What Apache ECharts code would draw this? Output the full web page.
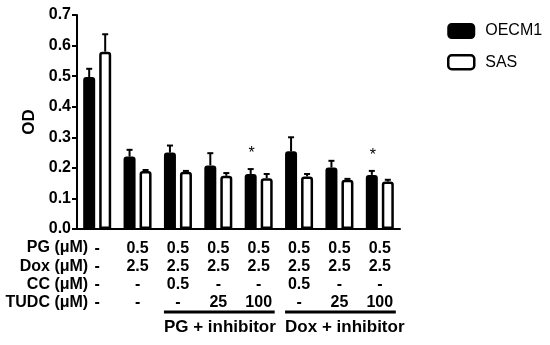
<!DOCTYPE html>
<html>
<head>
<meta charset="utf-8">
<script src="https://cdn.jsdelivr.net/npm/echarts@6/dist/echarts.min.js"></script>
<style>
  html, body { margin: 0; padding: 0; background: #fff; }
  #chart { width: 550px; height: 345px; }
</style>
</head>
<body>
<div id="chart"></div>
<script>
// treatment table under the x axis (one column per bar group)
const pgRow   = ['-', '0.5', '0.5', '0.5', '0.5', '0.5', '0.5', '0.5'];
const doxRow  = ['-', '2.5', '2.5', '2.5', '2.5', '2.5', '2.5', '2.5'];
const ccRow   = ['-', '-', '0.5', '-', '-', '0.5', '-', '-'];
const tudcRow = ['-', '-', '-', '25', '100', '-', '25', '100'];
const rowNames = ['PG (\u03bcM)', 'Dox (\u03bcM)', 'CC (\u03bcM)', 'TUDC (\u03bcM)'];

// OD values, mean and error (upper bar only)
const oecm1    = [0.497, 0.237, 0.250, 0.208, 0.180, 0.254, 0.201, 0.177];
const oecm1Err = [0.027, 0.022, 0.023, 0.040, 0.016, 0.046, 0.022, 0.013];
const sas      = [0.580, 0.190, 0.187, 0.174, 0.166, 0.172, 0.161, 0.155];
const sasErr   = [0.057, 0.003, 0.003, 0.009, 0.014, 0.008, 0.003, 0.006];
const stars    = ['', '', '', '', '*', '', '', '*'];

// bracket groups: [first column, last column, label]
const groups = [[2, 4, 'PG + inhibitor'], [5, 7, 'Dox + inhibitor']];

const categories = pgRow.map((_, i) => 'g' + i);
const FONT = 'Arial, "Liberation Sans", sans-serif';
const BAR_W = 12;
const BAR_GAP = 4;
const OFFSET = (BAR_W + BAR_GAP) / 2;

const chart = echarts.init(document.getElementById('chart'));

// error bars drawn from the axis scale
function errorSeries(name, vals, errs, shift, starList) {
    return {
        type: 'custom',
        name: name + '-err',
        silent: true,
        z: 1,
        data: vals.map((v, i) => [i, v, v + errs[i]]),
        renderItem: function (params, api) {
            const i = api.value(0);
            const base = api.coord([i, api.value(1)]);
            const top = api.coord([i, api.value(2)]);
            const x = base[0] + shift;
            const children = [
                { type: 'line', shape: { x1: x, y1: base[1], x2: x, y2: top[1] },
                  style: { stroke: '#000', lineWidth: 2 } },
                { type: 'line', shape: { x1: x - 3, y1: top[1], x2: x + 3, y2: top[1] },
                  style: { stroke: '#000', lineWidth: 2 } }
            ];
            if (starList && starList[i]) {
                children.push({
                    type: 'text',
                    style: { text: starList[i], x: x + 1, y: top[1] - 7, align: 'center',
                             verticalAlign: 'bottom', fill: '#000', font: '16px ' + FONT }
                });
            }
            return { type: 'group', children: children };
        }
    };
}

const options = {
    animation: false,
    textStyle: { fontFamily: FONT },
    grid: { left: 77, right: 150, top: 15, bottom: 116, containLabel: false },
    legend: {
        orient: 'vertical',
        left: 442,
        top: 18,
        itemWidth: 26,
        itemHeight: 14,
        itemGap: 15,
        icon: 'roundRect',
        textStyle: { fontSize: 16, color: '#000', fontFamily: FONT, padding: [0, 0, 0, 6] },
        data: [
            { name: 'OECM1', itemStyle: { color: '#000', borderColor: '#000', borderWidth: 2 } },
            { name: 'SAS', itemStyle: { color: '#fff', borderColor: '#000', borderWidth: 2.5 } }
        ]
    },
    xAxis: {
        type: 'category',
        data: categories,
        axisLine: { lineStyle: { color: '#000', width: 2 } },
        axisTick: { alignWithLabel: true, length: 5, lineStyle: { color: '#000', width: 2 } },
        axisLabel: {
            interval: 0,
            margin: 10,
            color: '#000',
            fontWeight: 'bold',
            fontSize: 16,
            lineHeight: 18.2,
            fontFamily: FONT,
            formatter: function (v, i) {
                return [pgRow[i], doxRow[i], ccRow[i], tudcRow[i]].join('\n');
            }
        }
    },
    yAxis: {
        type: 'value',
        min: 0,
        max: 0.7,
        interval: 0.1,
        name: 'OD',
        nameLocation: 'middle',
        nameGap: 35,
        nameRotate: 90,
        nameTextStyle: { fontWeight: 'bold', fontSize: 17, color: '#000', fontFamily: FONT },
        splitLine: { show: false },
        axisLine: { show: true, lineStyle: { color: '#000', width: 2 } },
        axisTick: { show: true, length: 5, lineStyle: { color: '#000', width: 2 } },
        axisLabel: {
            margin: 6,
            color: '#000',
            fontWeight: 'bold',
            fontSize: 16,
            fontFamily: FONT,
            formatter: v => v.toFixed(1)
        }
    },
    series: [
        {
            name: 'OECM1',
            type: 'bar',
            data: oecm1,
            barWidth: BAR_W,
            barGap: (BAR_GAP / BAR_W * 100) + '%',
            z: 3,
            itemStyle: { color: '#000', borderColor: '#000', borderWidth: 2, borderRadius: [2, 2, 0, 0] }
        },
        {
            name: 'SAS',
            type: 'bar',
            data: sas,
            barWidth: BAR_W,
            z: 3,
            itemStyle: { color: '#fff', borderColor: '#000', borderWidth: 2.5, borderRadius: [2, 2, 0, 0] }
        },
        errorSeries('OECM1', oecm1, oecm1Err, -OFFSET, stars),
        errorSeries('SAS', sas, sasErr, OFFSET, null)
    ]
};

chart.setOption(options);

// row names and group brackets, placed from the axis pixel scale
const yBase = chart.convertToPixel({ yAxisIndex: 0 }, 0);
const x0 = chart.convertToPixel({ xAxisIndex: 0 }, 0);
const graphics = rowNames.map((t, r) => ({
    type: 'text',
    style: {
        text: t, x: x0 - 9, y: yBase + 19 + r * 18.2, align: 'right', verticalAlign: 'middle',
        fill: '#000', font: 'bold 16px ' + FONT
    }
}));
groups.forEach(([a, b, label]) => {
    const xa = chart.convertToPixel({ xAxisIndex: 0 }, a) - OFFSET - BAR_W / 2;
    const xb = chart.convertToPixel({ xAxisIndex: 0 }, b) + OFFSET + BAR_W / 2 + 2;
    graphics.push({
        type: 'line',
        shape: { x1: xa, y1: yBase + 83, x2: xb, y2: yBase + 83 },
        style: { stroke: '#000', lineWidth: 3 }
    });
    graphics.push({
        type: 'text',
        style: {
            text: label, x: xa, y: yBase + 98, align: 'left', verticalAlign: 'middle',
            fill: '#000', font: 'bold 17px ' + FONT
        }
    });
});
chart.setOption({ graphic: graphics });
</script>
</body>
</html>
